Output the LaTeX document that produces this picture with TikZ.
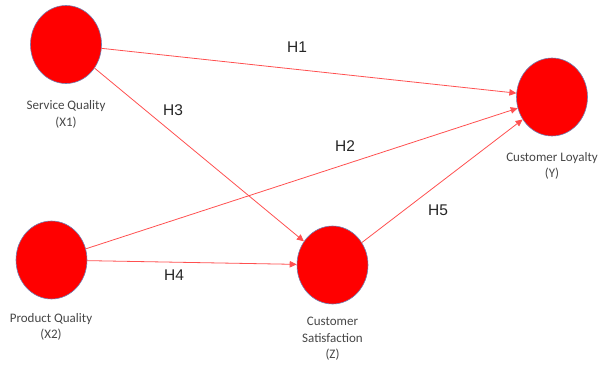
\documentclass[tikz,border=0pt]{standalone}
\usepackage{fontspec}
\setmainfont{Carlito}
\newfontfamily\hypfont{Liberation Sans}
\usetikzlibrary{shapes.geometric,arrows.meta}
\definecolor{constructRed}{RGB}{255,0,0}
\definecolor{linkRed}{RGB}{255,80,80}
\definecolor{rimBlue}{RGB}{115,125,175}
\definecolor{captionGray}{RGB}{70,70,70}
\begin{document}
\begin{tikzpicture}[
  x=1pt,y=-1pt,
  construct/.style={ellipse,draw=rimBlue,line width=0.6pt,fill=constructRed,
    minimum width=71pt,minimum height=78pt,inner sep=0pt},
  caption/.style={align=center,text=captionGray,font=\fontsize{13}{16.5}\selectfont},
  hyp/.style={text=black!85,font=\hypfont\fontsize{15.5}{17}\selectfont},
  link/.style={-{Triangle[length=7pt,width=6.5pt]},draw=linkRed,line width=0.8pt}]

\useasboundingbox (0,0) rectangle (599,364);

% Constructs of the model
\node[construct] (serviceQuality) at (66,44.5) {};
\node[construct] (productQuality) at (51.5,260) {};
\node[construct] (customerSatisfaction) at (332.5,265) {};
\node[construct] (customerLoyalty) at (552,97) {};

% Captions below the constructs
\node[caption] (serviceQualityText) at (66,114.5) {Service Quality\\(X1)};
\node[caption] (productQualityText) at (51,327) {Product Quality\\(X2)};
\node[caption] (customerSatisfactionText) at (332.5,339) {Customer\\Satisfaction\\(Z)};
\node[caption] (customerLoyaltyText) at (552,166) {Customer Loyalty\\(Y)};

% Hypotheses
\draw [link] (serviceQuality) -- (customerLoyalty);
\draw [link] (serviceQuality) -- (customerSatisfaction);
\draw [link] (productQuality) -- (customerLoyalty);
\draw [link] (productQuality) -- (customerSatisfaction);
\draw [link] (customerSatisfaction) -- (customerLoyalty);

\node[hyp] (hOne) at (297,47) {H1};
\node[hyp] (hTwo) at (345,146) {H2};
\node[hyp] (hThree) at (173,110) {H3};
\node[hyp] (hFour) at (174,275) {H4};
\node[hyp] (hFive) at (438,210) {H5};
\end{tikzpicture}
\end{document}
